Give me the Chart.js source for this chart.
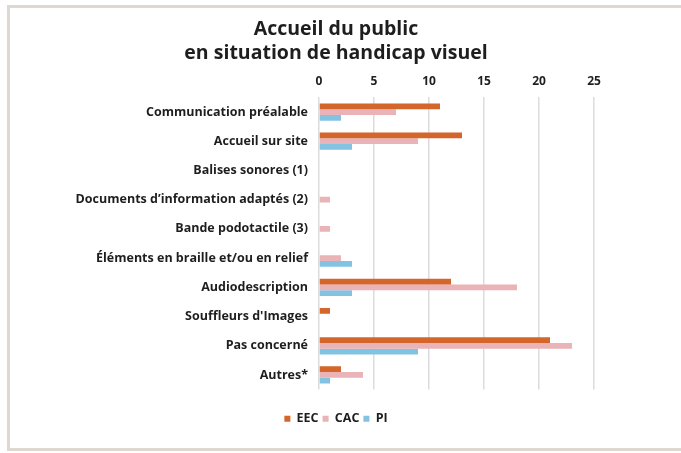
<!DOCTYPE html>
<html lang="fr">
<head>
<meta charset="utf-8">
<title>Accueil du public en situation de handicap visuel</title>
<script src="https://cdn.jsdelivr.net/npm/chart.js@4/dist/chart.umd.min.js"></script>
<style>
    html, body { margin: 0; padding: 0; background: #ffffff; overflow: hidden; }
    body { width: 681px; height: 453px; position: relative; }
    /* Grey frame around the chart (open on the right side) */
    #frame {
        position: absolute; left: 7px; top: 5px;
        width: 690px; height: 440px;
        border: 3px solid #ddd9d1; border-right: none;
        background: #ffffff;
    }
    #chart-wrap { position: absolute; left: 0; top: 0; width: 672px; height: 453px; }
</style>
</head>
<body>
<div id="frame"></div>
<div id="chart-wrap"><canvas id="handicap-visuel"></canvas></div>

<script>
// ============================================
// Data
// ============================================

const categories = [
    'Communication préalable',
    'Accueil sur site',
    'Balises sonores (1)',
    'Documents d’information adaptés (2)',
    'Bande podotactile (3)',
    'Éléments en braille et/ou en relief',
    'Audiodescription',
    "Souffleurs d'Images",
    'Pas concerné',
    'Autres*'
];

const eecValues = [11, 13, 0, 0, 0, 0, 12, 1, 21, 2]; // EEC
const cacValues = [7, 9, 0, 1, 1, 2, 18, 0, 23, 4];   // CAC
const piValues  = [2, 3, 0, 0, 0, 3, 3, 0, 9, 1];     // PI

const seriesNames = ['EEC', 'CAC', 'PI'];
const seriesColors = ['#d4652b', '#e9b3b8', '#82c3e2'];

const titleLines = ['Accueil du public', 'en situation de handicap visuel'];
const axisMax = 25;
const axisStep = 5;

// ============================================
// Chart
// ============================================

const FONT = '"Open Sans", Lato, sans-serif';
const TEXT_COLOR = '#1e1e1e';

function buildDatasets() {
    const values = [eecValues, cacValues, piValues];
    return seriesNames.map((name, i) => ({
        label: name,
        data: values[i],
        backgroundColor: seriesColors[i],
        borderWidth: 0,
        barPercentage: 1,
        categoryPercentage: 0.59
    }));
}

const ctx = document.getElementById('handicap-visuel').getContext('2d');

new Chart(ctx, {
    type: 'bar',
    data: {
        labels: categories,
        datasets: buildDatasets()
    },
    options: {
        indexAxis: 'y',
        responsive: true,
        maintainAspectRatio: false,
        animation: false,
        layout: { padding: { left: 0, right: 0, top: 0, bottom: 18 } },
        scales: {
            x: {
                position: 'top',
                min: 0,
                max: axisMax,
                ticks: {
                    stepSize: axisStep,
                    padding: 9,
                    color: TEXT_COLOR,
                    font: { family: FONT, size: 12, weight: 'bold' }
                },
                grid: { color: '#dcdcdc', lineWidth: 1.5, drawTicks: false },
                border: { display: false },
                afterFit: (scale) => { scale.height = 25.6; } // chart area starts near y = 97
            },
            // empty axis that reserves the space between the plot and the legend
            xGap: {
                type: 'linear',
                position: 'bottom',
                ticks: { display: false },
                grid: { display: false },
                border: { display: false },
                afterFit: (scale) => { scale.height = 18.9; }
            },
            y: {
                ticks: {
                    padding: 11,
                    color: TEXT_COLOR,
                    font: { family: FONT, size: 12.5, weight: 'bold' }
                },
                grid: { display: false, drawTicks: false },
                border: { display: false },
                afterFit: (scale) => { scale.width = 319; } // zero line at x = 319
            },
            // empty axis that reserves the space on the right of the plot
            yGap: {
                type: 'linear',
                position: 'right',
                ticks: { display: false },
                grid: { display: false, drawTicks: false },
                border: { display: false },
                afterFit: (scale) => { scale.width = 78; }
            }
        },
        plugins: {
            title: {
                display: true,
                text: titleLines,
                color: TEXT_COLOR,
                font: { family: FONT, size: 19.5, weight: 'bold', lineHeight: 1.2 },
                padding: { top: 18, bottom: 7 }
            },
            legend: {
                position: 'bottom',
                labels: {
                    boxWidth: 6,
                    boxHeight: 6,
                    padding: 4,
                    color: TEXT_COLOR,
                    font: { family: FONT, size: 12.5, weight: 'bold' }
                }
            },
            tooltip: { enabled: false }
        }
    }
});
</script>
</body>
</html>
